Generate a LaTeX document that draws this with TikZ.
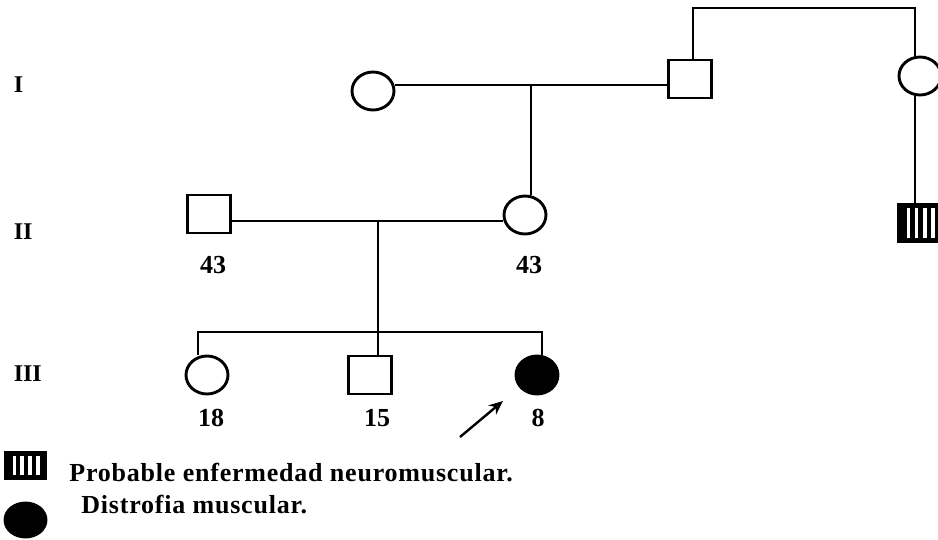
\documentclass[tikz,border=0pt]{standalone}
\usepackage{fontspec}
\setmainfont{Liberation Serif}
\usetikzlibrary{arrows.meta,shapes.geometric,calc}
\begin{document}
\begin{tikzpicture}[x=1pt,y=-1pt,
  line width=2.9pt,
  female/.style={draw,ellipse,inner sep=0pt,minimum width=42pt,minimum height=38pt},
  male/.style={draw,rectangle,inner sep=0pt,minimum width=43pt,minimum height=38pt},
  affectedF/.style={female,fill=black},
  striped/.style={male,fill=black,path picture={
      \foreach \f in {0.23,0.42,0.61,0.80}
        \fill[white]
          ($(path picture bounding box.north west)!\f!(path picture bounding box.north east)+(-1.8pt,-4pt)$)
          rectangle
          ($(path picture bounding box.south west)!\f!(path picture bounding box.south east)+(1.8pt,4pt)$);}},
  gen/.style={anchor=west,font=\fontsize{24}{24}\selectfont\bfseries},
  age/.style={font=\fontsize{26}{26}\selectfont\bfseries},
  legend/.style={anchor=base west,inner sep=0pt,font=\fontsize{26}{26}\selectfont\bfseries\addfontfeature{LetterSpace=3}}]
\useasboundingbox (0,0) rectangle (938,539);

% generation labels
\node[gen] (gI) at (9,85) {I};
\node[gen] (gII) at (9,232) {II};
\node[gen] (gIII) at (9,374) {III};

% generation I
\node[female] (A) at (373,91) {};
\node[male] (B) at (690,79) {};
\node[female] (C) at (920,76) {};
\coordinate (m1) at (531,85);
\draw (A.east |- m1) -- (B.west |- m1);
\coordinate (t1) at (693,8);
\coordinate (t2) at (915,8);
\draw (B.north -| t1) -- (t1) -- (t2) -- (t2 |- C.north);

% generation II
\node[male] (F) at (209,214) {};
\node[female] (E) at (525,215) {};
\node[striped] (D) at (920,223) {};
\draw (m1) -- (m1 |- E.north);
\coordinate (c1) at (915,76);
\draw (c1 |- C.south) -- (c1 |- D.north);
\coordinate (m2) at (378,221);
\draw (F.east |- m2) -- (E.west |- m2);
\node[age] (aF) at (213,265) {43};
\node[age] (aE) at (529,265) {43};

% generation III
\coordinate (s) at (378,332);
\coordinate (sL) at (198,332);
\coordinate (sR) at (542,332);
\node[female] (G) at (207,375) {};
\node[male] (H) at (370,375) {};
\node[affectedF] (J) at (537,375) {};
\draw (m2) -- (s);
\draw (sL |- G.north) -- (sL) -- (sR) -- (sR |- J.north);
\draw (s) -- (s |- H.north);
\node[age] (aG) at (211,418) {18};
\node[age] (aH) at (377,418) {15};
\node[age] (aJ) at (538,418) {8};

% proband arrow
\coordinate (p0) at (460,437);
\coordinate (p1) at (503,401);
\draw[line width=2.4pt,-{Stealth[length=14pt,width=12pt]}] (p0) -- (p1);

% legend
\node[striped,minimum width=41pt,minimum height=27pt] (L1) at (25.5,465.5) {};
\node[affectedF,minimum width=41pt,minimum height=34pt] (L2) at (25.5,520) {};
\node[legend] (T1) at (68,481) {Probable enfermedad neuromuscular.};
\node[legend] (T2) at (80,513) {Distrofia muscular.};
\end{tikzpicture}
\end{document}
